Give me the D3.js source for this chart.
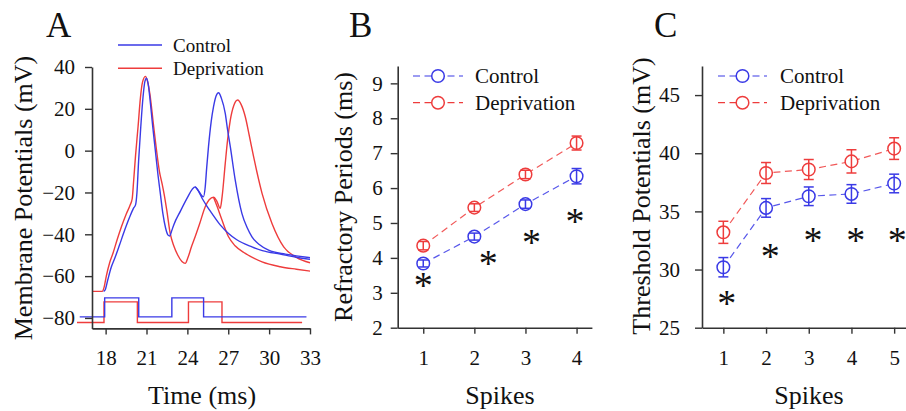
<!DOCTYPE html>
<html><head><meta charset="utf-8">
<script src="https://cdn.jsdelivr.net/npm/d3@7"></script>
<style>
html,body{margin:0;padding:0;background:#fff;}
svg{display:block;}
text{font-family:"Liberation Serif","Times New Roman",serif;fill:#111;}
</style></head>
<body>
<svg id="chart" width="906" height="411"></svg>
<script>
// ---------------- DATA ----------------
// Panel A: membrane potential traces [time (ms), mV]
const controlSpikeTrace = [[17.85,-67.3],[17.97,-66.5],[18.15,-62],[18.4,-56],[18.67,-51.5],[19.0,-45.5],[19.4,-38],[19.75,-32],[20.05,-27.5],[20.2,-25.8],[20.3,-20],[20.42,-5],[20.58,11.4],[20.75,26],[20.88,33],[21.0,34.6],[21.12,32],[21.25,25],[21.45,12],[21.65,0],[21.85,-12],[22.0,-19.7],[22.2,-30],[22.4,-37],[22.58,-40.4],[22.7,-40.8],[22.85,-38.3],[23.0,-35.5],[23.5,-28.8],[24.0,-22.5],[24.35,-18.5],[24.57,-17.3],[24.8,-19],[25.05,-21.5],[25.18,-22.1],[25.3,-18],[25.42,-8],[25.55,1.9],[25.75,14],[25.92,21],[26.1,26],[26.29,27.7],[26.5,25],[26.78,17.8],[26.95,10],[27.15,1.9],[27.51,-14],[28.0,-30],[28.4,-37],[28.74,-41.2],[29.3,-45],[29.96,-47.6],[31.19,-49.5],[32.0,-50.3],[33.0,-51.2]];
const controlDecayTrace = [[24.57,-17.3],[24.8,-19.2],[25.1,-23],[25.43,-26.5],[25.8,-30],[26.41,-35.5],[27.02,-39.6],[27.6,-42.5],[28.74,-46],[29.5,-47.8],[30.82,-49.5],[32.0,-51],[33.0,-52]];
const deprivationSpikeTrace = [[17.0,-67.3],[17.75,-67.3],[17.88,-65.5],[18.05,-60],[18.3,-53.5],[18.54,-49.1],[18.85,-42.5],[19.16,-36.4],[19.5,-30.5],[19.8,-26],[19.95,-23],[20.05,-15],[20.2,-2],[20.38,11.4],[20.55,25],[20.7,32.5],[20.92,35.5],[21.08,33],[21.25,27],[21.5,13],[21.72,1],[21.95,-10],[22.15,-16],[22.3,-21],[22.5,-29],[22.74,-39.6],[23.0,-45.5],[23.3,-50],[23.6,-53],[23.84,-53.9],[24.05,-51],[24.3,-46],[24.57,-41.2],[24.9,-35],[25.31,-26.8],[25.6,-23.5],[25.92,-22.3],[26.15,-24],[26.41,-27.6],[26.55,-22],[26.78,-6.1],[26.95,5],[27.15,14.6],[27.4,21.5],[27.69,24.2],[27.95,22],[28.25,16.2],[28.55,7],[28.86,-2.9],[29.48,-20.4],[30.21,-34.8],[31.07,-46],[32.0,-51],[33.0,-53.6]];
const deprivationDecayTrace = [[25.92,-22.3],[26.2,-27],[26.54,-33.2],[27.02,-41.2],[27.5,-45.5],[28.25,-49.1],[29.48,-53.2],[30.82,-55.5],[32.0,-56.7],[33.0,-57.6]];
// Panel A: stimulus steps [time, level]
const controlStim = [[16.1,-79.5],[17.93,-70.4],[20.43,-79.5],[22.86,-70.4],[25.19,-79.5],[32.74,-79.5]];
const deprivationStim = [[15.9,-82.2],[17.88,-72.3],[20.33,-82.2],[24.08,-72.3],[26.54,-82.2],[32.42,-82.2]];
const timeTicks = [18,21,24,27,30,33];
const vmTicks = [40,20,0,-20,-40,-60,-80];

// Panel B: refractory periods
const spikesB = [1,2,3,4];
const refractoryControl = [3.84,4.61,5.54,6.34];
const refractoryControlErr = [0.1,0.1,0.12,0.22];
const refractoryDeprivation = [4.35,5.44,6.39,7.29];
const refractoryDeprivationErr = [0.12,0.11,0.12,0.2];
const refractoryTicks = [2,3,4,5,6,7,8,9];
const starsBx = [1.0,2.27,3.12,3.97];
const starsBy = [3.32,3.94,4.56,5.17];

// Panel C: threshold potentials
const spikesC = [1,2,3,4,5];
const thresholdControl = [30.2,35.3,36.3,36.5,37.4];
const thresholdControlErr = [0.83,0.8,0.8,0.8,0.8];
const thresholdDeprivation = [33.2,38.3,38.6,39.3,40.4];
const thresholdDeprivationErr = [0.95,0.9,0.86,1.0,0.93];
const thresholdTicks = [25,30,35,40,45];
const starsCx = [1.08,2.1,3.1,4.1,5.07];
const starsCy = [27.4,31.5,32.8,32.8,32.8];

const seriesNames = ["Control","Deprivation"];
const BLUE = "#3a3ae6", RED = "#ee3c3c", AX = "#333";

// ---------------- DRAW ----------------
const svg = d3.select("#chart");

function drawAxes(g, x, y, xt, yt, opt){
  const xa = d3.axisBottom(x).tickValues(xt).tickFormat(d3.format("d")).tickSize(6).tickPadding(opt.xpad).tickSizeOuter(0);
  const ya = d3.axisLeft(y).tickValues(yt).tickFormat(d3.format("d")).tickSize(7).tickPadding(opt.ypad).tickSizeOuter(0);
  const gx = g.append("g").attr("transform",`translate(0,${y.range()[0]})`).call(xa);
  const gy = g.append("g").attr("transform",`translate(${x.range()[0]},0)`).call(ya);
  [gx,gy].forEach(a=>{
    a.select(".domain").attr("stroke",AX).attr("stroke-width",1.6);
    a.selectAll(".tick line").attr("stroke",AX).attr("stroke-width",1.4);
    a.selectAll(".tick text").attr("font-family","Liberation Serif, serif").attr("font-size",21).attr("fill","#111");
  });
}

function letter(x, t){ svg.append("text").attr("x",x).attr("y",37).attr("font-size",35).text(t); }

// ===== Panel A =====
{
  const x = d3.scaleLinear([17,33],[92,310]);
  const y = d3.scaleLinear([-85,40],[328.4,67]);
  const g = svg.append("g");
  const line = d3.line().x(d=>x(d[0])).y(d=>y(d[1])).curve(d3.curveMonotoneX);
  const step = d3.line().x(d=>x(d[0])).y(d=>y(d[1])).curve(d3.curveStepAfter);
  [[deprivationDecayTrace,RED],[deprivationSpikeTrace,RED],[controlDecayTrace,BLUE],[controlSpikeTrace,BLUE]].forEach(([d,c])=>{
    g.append("path").datum(d).attr("d",line).attr("fill","none").attr("stroke",c).attr("stroke-width",1.4);
  });
  g.append("path").datum(deprivationStim).attr("d",step).attr("fill","none").attr("stroke",RED).attr("stroke-width",1.4);
  g.append("path").datum(controlStim).attr("d",step).attr("fill","none").attr("stroke",BLUE).attr("stroke-width",1.4);
  drawAxes(g,x,y,timeTicks,vmTicks,{xpad:16,ypad:10});
  svg.append("text").attr("x",202).attr("y",404).attr("text-anchor","middle").attr("font-size",26).text("Time (ms)");
  svg.append("text").attr("transform","translate(32,198) rotate(-90)").attr("text-anchor","middle").attr("font-size",26).text("Membrane Potentials (mV)");
  letter(46,"A");
  // legend
  [[45,BLUE,seriesNames[0]],[68.3,RED,seriesNames[1]]].forEach(([ly,c,t])=>{
    svg.append("line").attr("x1",118).attr("x2",162).attr("y1",ly).attr("y2",ly).attr("stroke",c).attr("stroke-width",1.4);
    svg.append("text").attr("x",173).attr("y",ly+6.5).attr("font-size",19).text(t);
  });
}

function errorPanel(cfg){
  const {x,y,xs,series,xticks,yticks,starsX,starsY,legend} = cfg;
  const g = svg.append("g");
  const line = d3.line().x((d,i)=>x(xs[i])).y(d=>y(d));
  series.forEach(s=>{
    g.append("path").datum(s.v).attr("d",line).attr("fill","none").attr("stroke",s.c).attr("stroke-width",1.2).attr("stroke-dasharray","7,4.5").attr("opacity",0.85);
  });
  series.forEach(s=>{
    const pts = g.append("g");
    s.v.forEach((v,i)=>{
      const cx = x(xs[i]), cy = y(v);
      pts.append("circle").attr("cx",cx).attr("cy",cy).attr("r",6.3).attr("fill","#fff").attr("stroke",s.c).attr("stroke-width",1.5);
      const y1 = y(v+s.e[i]), y2 = y(v-s.e[i]);
      pts.append("line").attr("x1",cx).attr("x2",cx).attr("y1",y1).attr("y2",y2).attr("stroke",s.c).attr("stroke-width",1.5);
      [y1,y2].forEach(yy=>pts.append("line").attr("x1",cx-5).attr("x2",cx+5).attr("y1",yy).attr("y2",yy).attr("stroke",s.c).attr("stroke-width",1.5));
    });
  });
  starsX.forEach((sx,i)=>{
    g.append("text").attr("x",x(sx)).attr("y",y(starsY[i])+16.5).attr("text-anchor","middle").attr("font-size",38).text("*");
  });
  drawAxes(g,x,y,xticks,yticks,cfg.pad);
  // legend
  legend.rows.forEach((r,i)=>{
    const ly = r.y;
    svg.append("line").attr("x1",legend.x1).attr("x2",legend.x2).attr("y1",ly).attr("y2",ly).attr("stroke",r.c).attr("stroke-width",1.2).attr("stroke-dasharray","7,4.5");
    svg.append("circle").attr("cx",(legend.x1+legend.x2)/2).attr("cy",ly).attr("r",6.3).attr("fill","#fff").attr("stroke",r.c).attr("stroke-width",1.5);
    svg.append("text").attr("x",legend.tx).attr("y",ly+7).attr("font-size",21).text(r.t);
  });
}

// ===== Panel B =====
{
  const x = d3.scaleLinear([0.5,4.3],[397.7,591.9]);
  const y = d3.scaleLinear([2,9.5],[327.7,65.9]);
  errorPanel({x,y,xs:spikesB,
    series:[{v:refractoryDeprivation,e:refractoryDeprivationErr,c:RED},{v:refractoryControl,e:refractoryControlErr,c:BLUE}],
    xticks:spikesB,yticks:refractoryTicks,starsX:starsBx,starsY:starsBy,pad:{xpad:16,ypad:8},
    legend:{x1:413,x2:463,tx:475,rows:[{y:76,c:BLUE,t:seriesNames[0]},{y:102.7,c:RED,t:seriesNames[1]}]}});
  svg.append("text").attr("x",500).attr("y",404).attr("text-anchor","middle").attr("font-size",26).text("Spikes");
  svg.append("text").attr("transform","translate(352,197) rotate(-90)").attr("text-anchor","middle").attr("font-size",26).text("Refractory Periods (ms)");
  letter(349,"B");
}

// ===== Panel C =====
{
  const x = d3.scaleLinear([0.5,5.5],[702,915.5]);
  const y = d3.scaleLinear([25,47.5],[327.7,66]);
  errorPanel({x,y,xs:spikesC,
    series:[{v:thresholdDeprivation,e:thresholdDeprivationErr,c:RED},{v:thresholdControl,e:thresholdControlErr,c:BLUE}],
    xticks:spikesC,yticks:thresholdTicks,starsX:starsCx,starsY:starsCy,pad:{xpad:16,ypad:15},
    legend:{x1:718,x2:767,tx:780,rows:[{y:76,c:BLUE,t:seriesNames[0]},{y:102.7,c:RED,t:seriesNames[1]}]}});
  svg.append("text").attr("x",809).attr("y",404).attr("text-anchor","middle").attr("font-size",26).text("Spikes");
  svg.append("text").attr("transform","translate(650,196) rotate(-90)").attr("text-anchor","middle").attr("font-size",26).text("Threshold Potentials (mV)");
  letter(654,"C");
}
</script>
</body></html>
